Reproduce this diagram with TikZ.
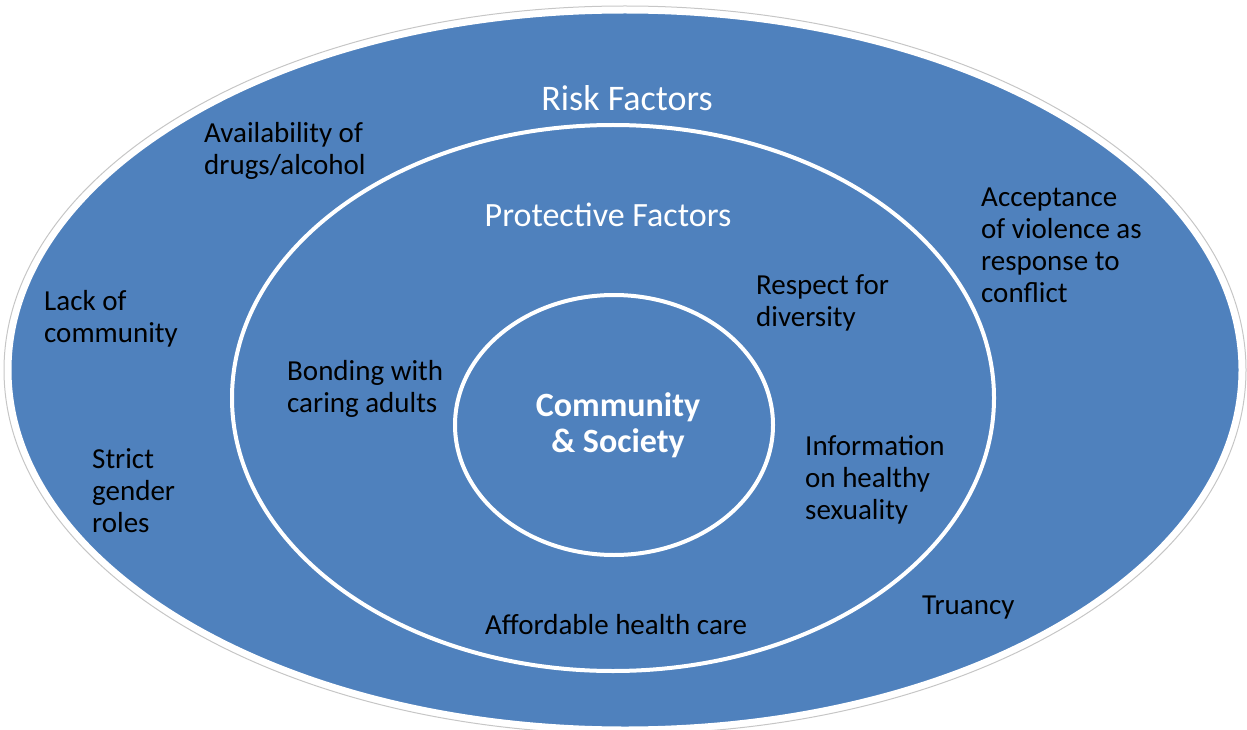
\documentclass[tikz,border=0pt]{standalone}
\usepackage{fontspec}
\setmainfont{Carlito}
\definecolor{ringblue}{HTML}{4F81BD}
\tikzset{
  factor/.style={font=\fontsize{29}{32}\selectfont, align=left, anchor=west, inner sep=0pt, text=black},
  heading/.style={font=\fontsize{34}{36}\selectfont, text=white, inner sep=0pt},
  ring/.style={draw=white, line width=4pt}
}
\begin{document}
\begin{tikzpicture}[x=1pt, y=-1pt]
\useasboundingbox (0,0) rectangle (1247,730);
\draw[gray!45, line width=1pt] (625,370) ellipse [x radius=621, y radius=364];
\draw[ring, fill=ringblue, line width=3pt] (625,370) ellipse [x radius=615, y radius=358];
\draw[ring] (613,398) ellipse [x radius=381, y radius=273];
\draw[ring] (614,425) ellipse [x radius=159, y radius=130];
\node[heading, font=\fontsize{36}{40}\selectfont] (risk) at (627,98) {Risk Factors};
\node[heading] (protective) at (608,215) {Protective Factors};
\node[heading, font=\bfseries\fontsize{34}{36}\selectfont, align=center] (core) at (618,425) {Community\\ \& Society};
\node[factor] (drugs) at (204,151) {Availability of\\drugs/alcohol};
\node[factor] (violence) at (981,245) {Acceptance\\of violence as\\response to\\conflict};
\node[factor] (community) at (44,319) {Lack of\\community};
\node[factor] (diversity) at (756,303) {Respect for\\diversity};
\node[factor] (bonding) at (287,389) {Bonding with\\caring adults};
\node[factor] (sexuality) at (805,480) {Information\\on healthy\\sexuality};
\node[factor] (gender) at (92,491) {Strict\\gender\\roles};
\node[factor] (truancy) at (922,608) {Truancy};
\node[factor] (health) at (485,625) {Affordable health care};
\end{tikzpicture}
\end{document}
